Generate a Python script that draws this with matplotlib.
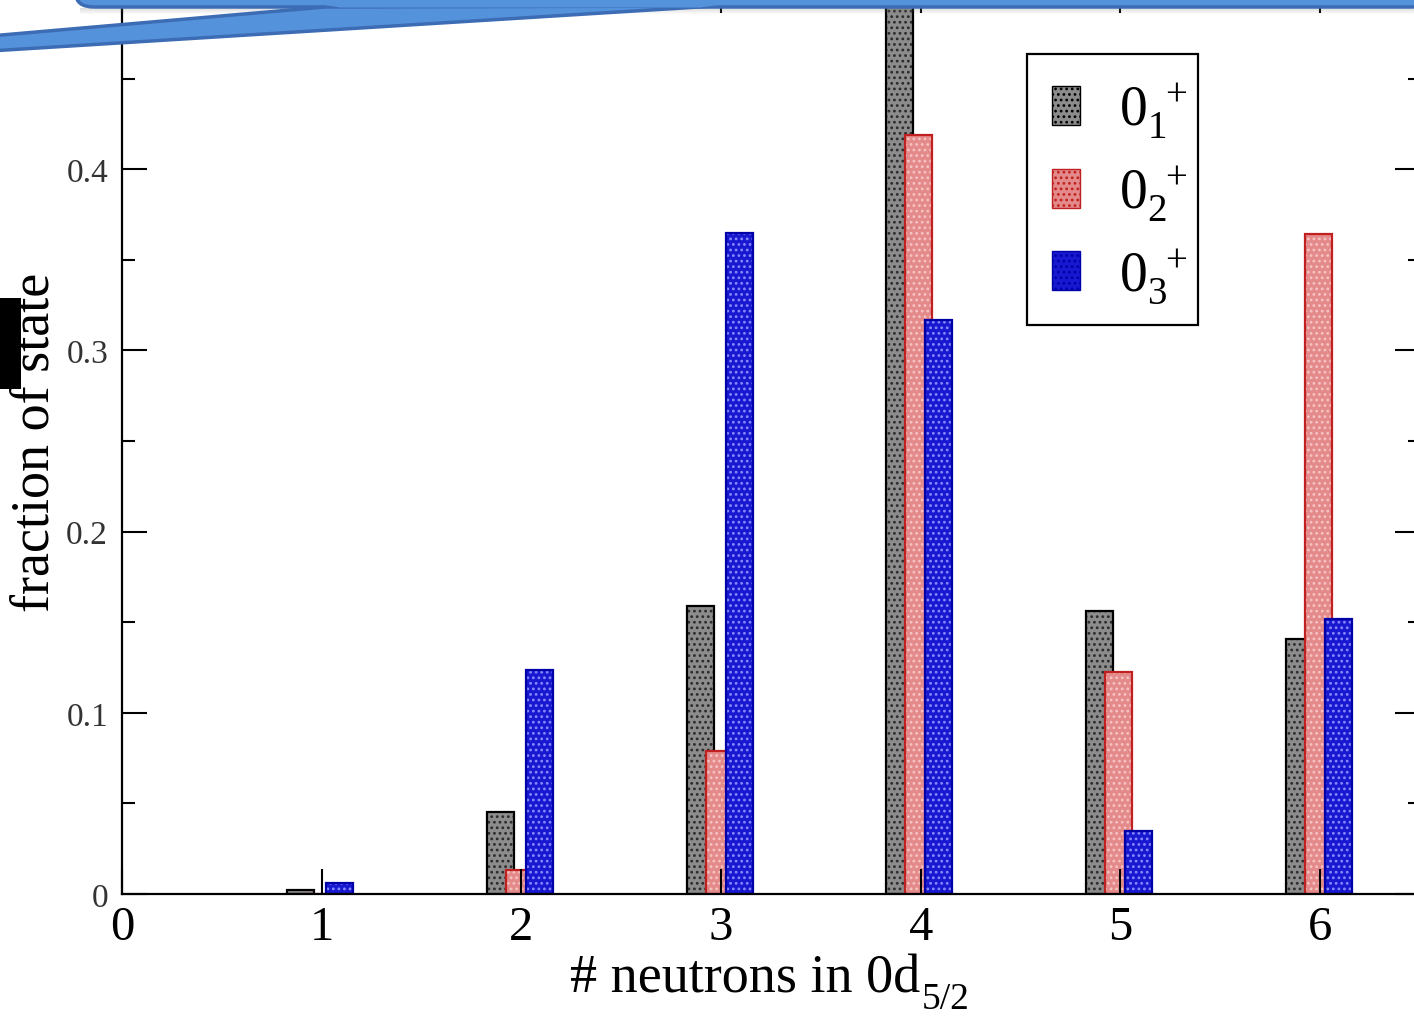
import matplotlib
matplotlib.use("Agg")
import matplotlib.pyplot as plt
from matplotlib.patches import Polygon, Rectangle, FancyBboxPatch, Patch
from matplotlib.ticker import MultipleLocator

# --------------------------------------------------
# data
# --------------------------------------------------
n_neutrons = [1, 2, 3, 4, 5, 6]
frac_01 = [0.002, 0.045, 0.159, 0.497, 0.156, 0.141]
frac_02 = [0.0, 0.013, 0.079, 0.419, 0.1225, 0.364]
frac_03 = [0.006, 0.1235, 0.365, 0.317, 0.035, 0.152]
state_labels = [r'$\mathregular{0_1^{\,\;+}}$', r'$\mathregular{0_2^{\,\;+}}$',
                r'$\mathregular{0_3^{\,\;+}}$']

plt.rcParams['font.family'] = ['Liberation Serif', 'DejaVu Serif']
plt.rcParams['mathtext.fontset'] = 'custom'
plt.rcParams['mathtext.rm'] = 'Liberation Serif'
plt.rcParams['mathtext.it'] = 'Liberation Serif:italic'
plt.rcParams['hatch.linewidth'] = 1.2

W, H = 1414, 1020
fig = plt.figure(figsize=(W / 100, H / 100), dpi=100)


def px(x, y):
    # pixel coords (origin top-left) -> figure fraction
    return (x / W, 1 - y / H)


# axes placed in pixels: x=0 at 122, x=6.5 at 1420, y=0 at 895, y=0.5 at -11
ax = fig.add_axes([122 / W, (H - 895) / H, (1420 - 122) / W, (895 + 11) / H])

width = 0.135
styles = [
    # offset, face, hatch colour, edge
    (-0.105, '#8c8c8c', '#2a2a2a', 'black'),
    (-0.010, '#e48a8a', '#f6c4c4', '#c02020'),
    (0.090, '#1818d0', '#8a8aff', '#0000a8'),
]
series = [frac_01, frac_02, frac_03]

for i, (vals, (off, face, hcol, edge)) in enumerate(zip(series, styles)):
    xs = [n + off for n in n_neutrons]
    ax.bar(xs, vals, width, color=face, edgecolor=hcol, linewidth=0,
           hatch='...', zorder=1 + 0.2 * i)
    ax.bar(xs, vals, width, facecolor='none', edgecolor=edge,
           linewidth=1.6, zorder=1.1 + 0.2 * i)

ax.set_xlim(0, 6.5)
ax.set_ylim(0, 0.5)
ax.xaxis.set_major_locator(MultipleLocator(1))
ax.set_yticks([0, 0.1, 0.2, 0.3, 0.4])
ax.set_yticklabels(['0', '0.1', '0.2', '0.3', '0.4'])
ax.yaxis.set_minor_locator(MultipleLocator(0.05))

ax.tick_params(which='both', direction='in', top=True, right=True, width=1.5)
ax.tick_params(which='major', length=18)
ax.tick_params(which='minor', length=9)
ax.tick_params(axis='x', labelsize=35, pad=8)
ax.tick_params(axis='y', labelsize=24, labelcolor='#333333', pad=10)
for s in ax.spines.values():
    s.set_linewidth(1.6)

ax.set_ylabel('fraction of state', fontsize=39, labelpad=4)
fig.text(*px(570, 993), '# neutrons in 0d', fontsize=39,
         ha='left', va='baseline')
fig.text(*px(922, 1009), '5/2', fontsize=27, ha='left', va='baseline')

handles = [Patch(facecolor=st[1], edgecolor=st[3], hatch='...') for st in styles]
leg = ax.legend(handles, state_labels, loc='upper left',
                bbox_to_anchor=px(1027, 55), bbox_transform=fig.transFigure,
                fontsize=40, frameon=False,
                handlelength=0.5, handleheight=0.7, handletextpad=0.7,
                labelspacing=0.4, borderpad=0.45, borderaxespad=0)
# legend frame drawn separately so it hugs the labels like the original
fig.add_artist(Rectangle(px(1027, 326), (1198 - 1027) / W, (326 - 55) / H,
                         transform=fig.transFigure, facecolor='none',
                         edgecolor='black', linewidth=1.6, zorder=4))

# slide artefacts: callout shape on top, black patch at left
blue = '#5592dc'
for k in range(6):
    fig.add_artist(Rectangle(px(80, 9 + k + 1), (1420 - 80) / W, 1 / H,
                             transform=fig.transFigure, facecolor='#808080',
                             edgecolor='none', alpha=0.25 * (1 - k / 6)))
band = FancyBboxPatch(px(76, 8), (1430 - 76) / W, 50 / H,
                      boxstyle='round,pad=0,rounding_size=0.013',
                      transform=fig.transFigure, facecolor=blue,
                      edgecolor='#3c6cb4', linewidth=2.5)
fig.add_artist(band)
tail = Polygon([px(325, 8), px(-10, 37), px(-10, 52), px(715, 7)],
               closed=True, transform=fig.transFigure, facecolor=blue,
               edgecolor='#3c6cb4', linewidth=2.5)
fig.add_artist(tail)
tail_cover = Polygon([px(318, 5), px(725, 5), px(700, 8.5), px(340, 8.5)],
                     closed=True, transform=fig.transFigure,
                     facecolor=blue, edgecolor='none')
fig.add_artist(tail_cover)
fig.add_artist(Rectangle(px(0, 390), 21 / W, 91 / H, transform=fig.transFigure,
                         facecolor='black', edgecolor='none'))

fig.savefig('out.png', dpi=100)
